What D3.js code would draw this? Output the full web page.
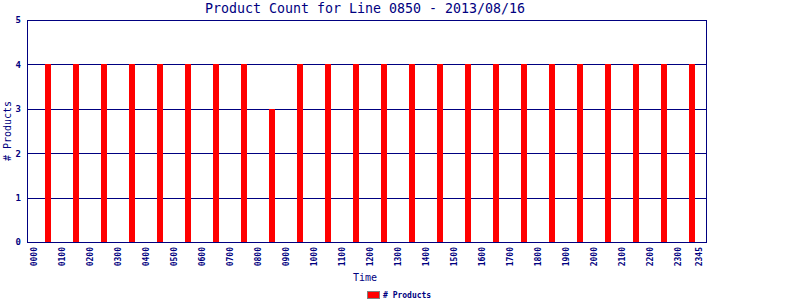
<!DOCTYPE html>
<html>
<head>
<meta charset="utf-8">
<script src="https://cdn.jsdelivr.net/npm/d3@7"></script>
<style>
  body { margin: 0; background: #fff; }
  svg { display: block; font-family: "DejaVu Sans Mono", monospace; }
</style>
</head>
<body>
<div id="main-container"></div>
<script>
const WIDTH = 800;
const HEIGHT = 300;
const NAVY = '#000080';
const BAR_COLOR = '#ff0000';
const TITLE = 'Product Count for Line 0850 - 2013/08/16';
const X_TITLE = 'Time';
const Y_TITLE = '# Products';

// data: one bar per hour, centered on the half hour
const HOURS = d3.range(24);
const COUNTS = [4, 4, 4, 4, 4, 4, 4, 4, 3, 4, 4, 4, 4, 4, 4, 4, 4, 4, 4, 4, 4, 4, 4, 4];
const TICK_HOURS = [0, 1, 2, 3, 4, 5, 6, 7, 8, 9, 10, 11, 12, 13, 14, 15, 16, 17, 18, 19, 20, 21, 22, 23, 23.75];
const TICK_LABELS = ['0000', '0100', '0200', '0300', '0400', '0500', '0600', '0700', '0800', '0900',
  '1000', '1100', '1200', '1300', '1400', '1500', '1600', '1700', '1800', '1900',
  '2000', '2100', '2200', '2300', '2345'];
const Y_TICKS = [0, 1, 2, 3, 4, 5];

const PLOT = { left: 27, right: 706, top: 20, bottom: 242 };
const BAR_WIDTH = 6;

const X_SCALE = d3.scaleLinear()
  .domain([-0.25, 24])
  .range([PLOT.left, PLOT.right]);

const Y_SCALE = d3.scaleLinear()
  .domain([0, 5])
  .range([PLOT.bottom, PLOT.top]);

const SVG = d3.select('#main-container')
  .append('svg')
  .attr('width', WIDTH)
  .attr('height', HEIGHT);

// gridlines
SVG.append('g')
  .selectAll('line')
  .data(Y_TICKS)
  .enter()
  .append('line')
  .attr('x1', PLOT.left)
  .attr('x2', PLOT.right)
  .attr('y1', d => Math.round(Y_SCALE(d)) + 0.5)
  .attr('y2', d => Math.round(Y_SCALE(d)) + 0.5)
  .attr('stroke', NAVY)
  .attr('stroke-width', 1);

// bars
SVG.append('g')
  .selectAll('rect')
  .data(HOURS)
  .enter()
  .append('rect')
  .attr('x', h => Math.round(X_SCALE(h + 0.5) - BAR_WIDTH / 2))
  .attr('y', (h, i) => Math.round(Y_SCALE(COUNTS[i])))
  .attr('width', BAR_WIDTH)
  .attr('height', (h, i) => Math.round(Y_SCALE(0)) - Math.round(Y_SCALE(COUNTS[i])))
  .attr('fill', BAR_COLOR);

// frame
SVG.append('rect')
  .attr('x', PLOT.left + 0.5)
  .attr('y', PLOT.top + 0.5)
  .attr('width', PLOT.right - PLOT.left)
  .attr('height', PLOT.bottom - PLOT.top)
  .attr('fill', 'none')
  .attr('stroke', NAVY);

// y axis labels
const Y_AXIS = d3.axisLeft(Y_SCALE)
  .tickValues(Y_TICKS)
  .tickSize(0)
  .tickPadding(6)
  .tickFormat(d3.format('d'));
const yG = SVG.append('g')
  .attr('transform', `translate(${PLOT.left}, 0)`)
  .call(Y_AXIS);
yG.select('.domain').remove();
yG.selectAll('text')
  .attr('fill', NAVY)
  .style('font-family', '"DejaVu Sans Mono", monospace')
  .style('font-size', '9px')
  .style('font-weight', 'bold');

// x axis labels
const X_AXIS = d3.axisBottom(X_SCALE)
  .tickValues(TICK_HOURS)
  .tickSize(0)
  .tickFormat((d, i) => TICK_LABELS[i]);
const xG = SVG.append('g')
  .attr('transform', `translate(0, ${PLOT.bottom})`)
  .call(X_AXIS);
xG.select('.domain').remove();
xG.selectAll('text')
  .attr('fill', NAVY)
  .attr('transform', 'rotate(-90)')
  .attr('x', -5)
  .attr('y', 0)
  .attr('dy', '0.35em')
  .style('text-anchor', 'end')
  .style('font-family', '"DejaVu Sans Mono", monospace')
  .style('font-size', '8px')
  .style('font-weight', 'bold');

// title
SVG.append('text')
  .attr('x', 365)
  .attr('y', 13)
  .attr('text-anchor', 'middle')
  .attr('fill', NAVY)
  .style('font-size', '13.3px')
  .text(TITLE);

// axis titles
SVG.append('text')
  .attr('x', 365)
  .attr('y', 281)
  .attr('text-anchor', 'middle')
  .attr('fill', NAVY)
  .style('font-size', '10px')
  .text(X_TITLE);

SVG.append('text')
  .attr('transform', `translate(11, ${(PLOT.top + PLOT.bottom) / 2}) rotate(-90)`)
  .attr('text-anchor', 'middle')
  .attr('fill', NAVY)
  .style('font-size', '10px')
  .text(Y_TITLE);

// legend
const LEGEND = SVG.append('g')
  .attr('transform', 'translate(367, 291)');
LEGEND.append('rect')
  .attr('x', 0.5)
  .attr('y', 0.5)
  .attr('width', 12)
  .attr('height', 7)
  .attr('fill', BAR_COLOR)
  .attr('stroke', '#808080');
LEGEND.append('text')
  .attr('x', 16)
  .attr('y', 7)
  .attr('fill', NAVY)
  .style('font-size', '8px')
  .style('font-weight', 'bold')
  .text(Y_TITLE);
</script>
</body>
</html>
